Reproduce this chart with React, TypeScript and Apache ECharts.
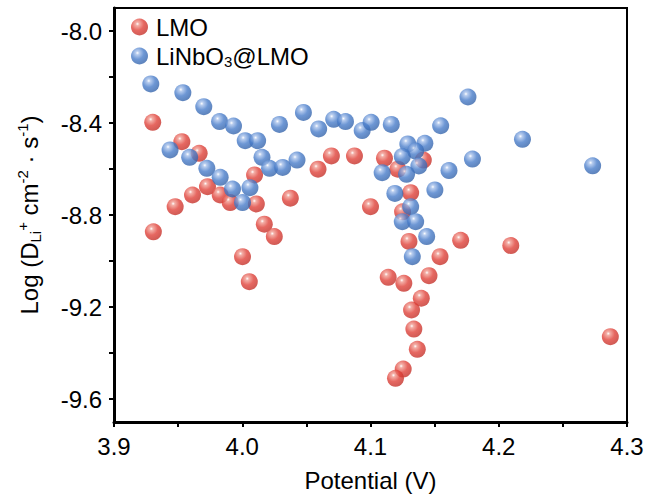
import React, { useEffect, useRef } from "react";
import * as echarts from "echarts";

const FONT = '"Liberation Sans", Arial, Helvetica, sans-serif';

// LMO (red)
const lmoPotential = [
  3.9307, 3.9302, 3.9477, 3.9529, 3.9612, 3.9664, 3.9729, 3.9828, 3.9906, 4.0096,
  4.011, 4.0172, 4.025, 4.0002, 4.0055, 4.0375, 4.0591, 4.0695, 4.0875, 4.1,
  4.1109, 4.1213, 4.1412, 4.1313, 4.125, 4.13, 4.1703, 4.2094, 4.1542, 4.1138,
  4.126, 4.1456, 4.1396, 4.132, 4.1338, 4.1365, 4.1255, 4.1195, 4.287,
];
const lmoLogD = [
  -8.873, -8.397, -8.764, -8.481, -8.713, -8.532, -8.677, -8.713, -8.746, -8.626,
  -8.752, -8.84, -8.894, -8.981, -9.09, -8.727, -8.601, -8.543, -8.543, -8.764,
  -8.553, -8.601, -8.561, -8.703, -8.786, -8.915, -8.91, -8.933, -8.981, -9.071,
  -9.097, -9.064, -9.162, -9.213, -9.296, -9.384, -9.47, -9.51, -9.329,
];

// LiNbO3@LMO (blue)
const coatedPotential = [
  3.9287, 3.9537, 3.97, 3.9823, 3.9932, 4.029, 4.0023, 4.012, 3.9437, 4.0154,
  3.959, 4.0213, 4.0315, 4.0427, 3.9724, 3.9828, 3.9924, 4.006, 4.0002, 4.0477,
  4.0596, 4.0713, 4.0805, 4.0935, 4.1005, 4.1162, 4.1547, 4.176, 4.1795, 4.1612,
  4.1502, 4.1291, 4.1424, 4.1352, 4.1248, 4.1377, 4.1281, 4.1091, 4.119, 4.1313,
  4.1248, 4.1352, 4.1438, 4.1326, 4.2185, 4.2732,
];
const coatedLogD = [
  -8.23, -8.268, -8.329, -8.394, -8.413, -8.406, -8.477, -8.477, -8.517, -8.549,
  -8.549, -8.597, -8.593, -8.561, -8.597, -8.636, -8.687, -8.681, -8.746, -8.354,
  -8.426, -8.384, -8.394, -8.433, -8.397, -8.406, -8.412, -8.287, -8.557, -8.607,
  -8.691, -8.491, -8.488, -8.522, -8.546, -8.587, -8.623, -8.616, -8.706, -8.764,
  -8.829, -8.829, -8.894, -8.981, -8.471, -8.586,
];

const xTickValues = [3.9, 3.95, 4.0, 4.05, 4.1, 4.15, 4.2, 4.25, 4.3];
const xLabelValues = [3.9, 4.0, 4.1, 4.2, 4.3];
const yTickValues = [-9.6, -9.4, -9.2, -9.0, -8.8, -8.6, -8.4, -8.2, -8.0];
const yLabelValues = [-9.6, -9.2, -8.8, -8.4, -8.0];

const seriesNames = ["LMO", "LiNbO3@LMO"];

function sphere(light: string, mid: string, dark: string) {
  return new echarts.graphic.RadialGradient(0.38, 0.32, 0.75, [
    { offset: 0, color: "#ffffff" },
    { offset: 0.14, color: light },
    { offset: 0.5, color: mid },
    { offset: 1, color: dark },
  ]);
}

export default function App() {
  const ref = useRef<HTMLDivElement>(null);
  useEffect(() => {
    document.body.style.margin = "0";
    if (!ref.current) return;
    const chart = echarts.init(ref.current, null, { renderer: "svg" });
    const red = sphere("#f09a90", "#e0423a", "#bf2e27");
    const blue = sphere("#a6c0ea", "#497dca", "#3260a5");
    const txt = { fontFamily: FONT, color: "#000", fontSize: 24 };
    chart.setOption({
      animation: false,
      backgroundColor: "#fff",
      grid: {
        left: 114,
        right: 20,
        top: 8,
        bottom: 77,
        show: true,
        borderColor: "#000",
        borderWidth: 2,
        containLabel: false,
      },
      legend: {
        orient: "vertical",
        left: 126,
        top: 10,
        itemWidth: 17,
        itemHeight: 17,
        itemGap: 5,
        icon: "circle",
        data: seriesNames,
        formatter: (name: string) =>
          name === "LiNbO3@LMO" ? "{n|LiNbO}{s|3}{n|@LMO}" : "{n|" + name + "}",
        textStyle: {
          ...txt,
          padding: [0, 0, 0, 3],
          rich: {
            n: { fontFamily: FONT, fontSize: 24, color: "#000", lineHeight: 26 },
            s: { fontFamily: FONT, fontSize: 15, color: "#000", verticalAlign: "bottom", padding: [4, 0, 0, 0] },
          },
        },
      },
      xAxis: {
        type: "value",
        min: 3.9,
        max: 4.3,
        name: "Potential (V)",
        nameLocation: "middle",
        nameGap: 46,
        nameTextStyle: { ...txt },
        axisLine: { show: true, onZero: false, lineStyle: { color: "#000", width: 3 } },
        axisTick: {
          show: true,
          length: 5,
          customValues: xTickValues,
          lineStyle: { color: "#000", width: 2 },
        },
        axisLabel: {
          ...txt,
          margin: 12,
          customValues: xLabelValues,
          formatter: (v: number) => v.toFixed(1),
        },
        splitLine: { show: false },
      },
      yAxis: {
        type: "value",
        min: -9.7,
        max: -7.9,
        name: "{n|Log (D}{sub|Li}{sup|+}{n| cm}{sup|-2}{n| · s}{sup|-1}{n|)}",
        nameLocation: "middle",
        nameRotate: 90,
        nameGap: 71,
        nameTextStyle: {
          ...txt,
          rich: {
            n: { fontFamily: FONT, fontSize: 24, color: "#000", lineHeight: 28 },
            sub: { fontFamily: FONT, fontSize: 15, color: "#000", verticalAlign: "bottom" },
            sup: { fontFamily: FONT, fontSize: 15, color: "#000", verticalAlign: "top" },
          },
        },
        axisLine: { show: true, onZero: false, lineStyle: { color: "#000", width: 3 } },
        axisTick: {
          show: true,
          length: 5,
          customValues: yTickValues,
          lineStyle: { color: "#000", width: 2 },
        },
        axisLabel: {
          ...txt,
          margin: 12,
          customValues: yLabelValues,
          formatter: (v: number) => v.toFixed(1),
        },
        splitLine: { show: false },
      },
      series: [
        {
          name: seriesNames[0],
          type: "scatter",
          symbol: "circle",
          symbolSize: 17,
          itemStyle: { color: red },
          data: lmoPotential.map((x, i) => [x, lmoLogD[i]]),
        },
        {
          name: seriesNames[1],
          type: "scatter",
          symbol: "circle",
          symbolSize: 17,
          itemStyle: { color: blue },
          data: coatedPotential.map((x, i) => [x, coatedLogD[i]]),
        },
      ],
    });
    return () => chart.dispose();
  }, []);
  return <div ref={ref} style={{ width: 647, height: 499 }} />;
}
